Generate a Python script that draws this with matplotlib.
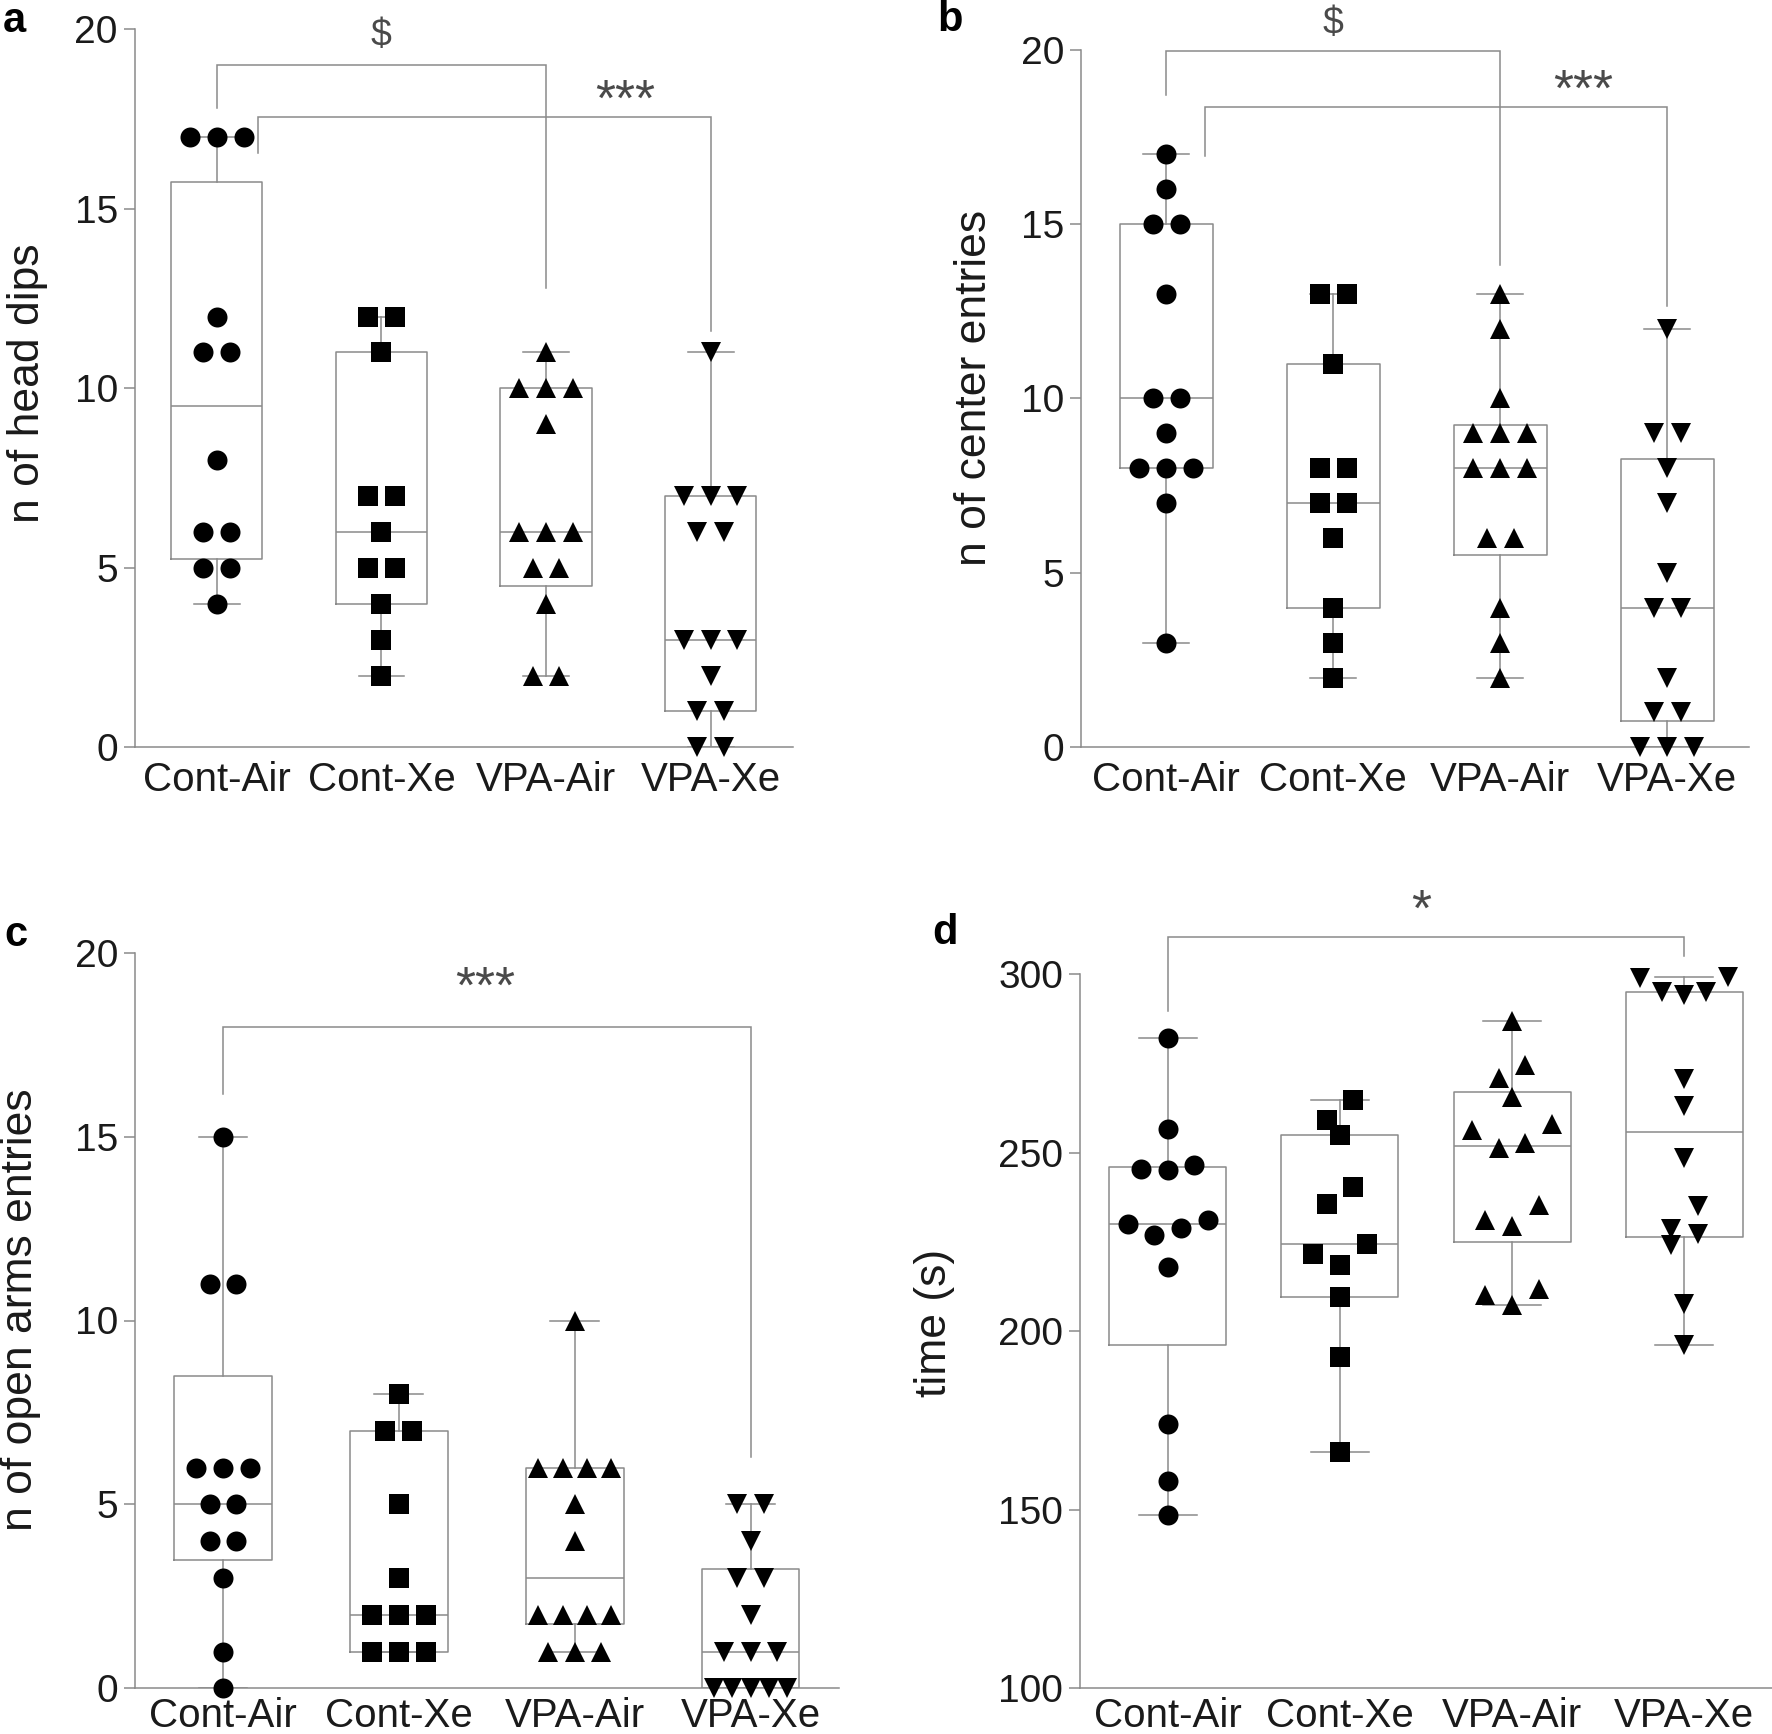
import numpy as np
import matplotlib.pyplot as plt

plt.rcParams['font.family'] = ['Liberation Sans', 'DejaVu Sans']

groups = ['Cont-Air', 'Cont-Xe', 'VPA-Air', 'VPA-Xe']
markers = ['o', 's', '^', 'v']

# a: n of head dips
head_dips = [
    [17, 17, 17, 12, 11, 11, 8, 6, 6, 5, 5, 4],
    [12, 12, 11, 7, 7, 6, 5, 5, 4, 3, 2],
    [11, 10, 10, 10, 9, 6, 6, 6, 5, 5, 4, 2, 2],
    [11, 7, 7, 7, 6, 6, 3, 3, 3, 2, 1, 1, 0, 0],
]
# b: n of center entries
center_entries = [
    [17, 16, 15, 15, 13, 10, 10, 9, 8, 8, 8, 7, 3],
    [13, 13, 11, 8, 8, 7, 7, 6, 4, 3, 2],
    [13, 12, 10, 9, 9, 9, 8, 8, 8, 6, 6, 4, 3, 2],
    [12, 9, 9, 8, 7, 5, 4, 4, 2, 1, 1, 0, 0, 0],
]
# c: n of open arms entries
open_arms_entries = [
    [15, 11, 11, 6, 6, 6, 5, 5, 4, 4, 3, 1, 0],
    [8, 7, 7, 5, 3, 2, 2, 2, 1, 1, 1],
    [10, 6, 6, 6, 6, 5, 4, 2, 2, 2, 2, 1, 1, 1],
    [5, 5, 4, 3, 3, 2, 1, 1, 1, 0, 0, 0, 0, 0],
]
# d: time (s)
time_s = [
    [282, 256.5, 246.5, 245.5, 245, 231, 230, 229, 227, 218, 174, 158, 148.5],
    [264.8, 259.2, 255, 240.4, 235.6, 224.4, 221.6, 218.4, 209.7, 192.8, 166.3],
    [286.9, 274.4, 271, 265.6, 258.1, 256.4, 252.6, 251.3, 235.3, 231, 229.5, 211.7, 210.1, 207.4],
    [299.1, 298.8, 295, 295, 294.2, 270.6, 263, 248.5, 235.1, 228.7, 227.2, 224.1, 207.7, 196],
]

W, H = 1772, 1734
fig = plt.figure(figsize=(W / 100, H / 100), dpi=100)

LINE = '#8a8a8a'
TXT = '#1a1a1a'
SIG = '#4a4a4a'


def box_stats(v):
    v = np.asarray(v, dtype=float)
    q1, med, q3 = np.percentile(v, [25, 50, 75], method='weibull')
    return dict(med=med, q1=q1, q3=q3, whislo=v.min(), whishi=v.max(), fliers=[])


def swarm(vals, row_gap, step_px, max_px):
    # rows of close values, spread symmetrically, outer slots first
    vals = np.asarray(vals, dtype=float)
    order = np.argsort(-vals, kind='stable')
    rows, cur = [], [order[0]]
    for i in order[1:]:
        if vals[cur[0]] - vals[i] < row_gap:
            cur.append(i)
        else:
            rows.append(cur)
            cur = [i]
    rows.append(cur)
    offs = np.zeros(len(vals))
    for row in rows:
        k = len(row)
        step = step_px if k == 1 else min(step_px, max_px / (k - 1))
        slots = sorted([i - (k - 1) / 2 for i in range(k)], key=lambda s: (-abs(s), -s))
        for i, s in zip(row, slots):
            offs[i] = s * step
    return offs


def sig_text(ax, x, y, s, size, frac):
    ax.annotate(s, xy=(x, y), xytext=(0, -frac * size), textcoords='offset points',
                ha='center', va='baseline', fontsize=size, color=SIG, annotation_clip=False)


def bracket(ax, x1, x2, top, low1, low2):
    ax.plot([x1, x1, x2, x2], [low1, top, top, low2], color=LINE, lw=1.1,
            clip_on=False, zorder=1, solid_joinstyle='miter')


panels = [
    dict(data=head_dips, rect=(134.5, 29.3, 793, 747.3), xlim=(0.5, 4.5), ylim=(0, 20),
         yticks=[0, 5, 10, 15, 20], ylabel='n of head dips', ylab_xy=(28, 383),
         width=0.555, gap=0.5, letter='a', letter_xy=(3, 32), xpad=10,
         brackets=[(1, 3, 19.0, 17.8, 12.8), (1.25, 4, 17.57, 16.55, 11.6)],
         sigs=[('$', 2, 19.87), ('***', 3.48, 18.26)]),
    dict(data=center_entries, rect=(1081, 49.5, 1749, 747.3), xlim=(0.49, 4.49), ylim=(0, 20),
         yticks=[0, 5, 10, 15, 20], ylabel='n of center entries', ylab_xy=(974, 388),
         width=0.555, gap=0.5, letter='b', letter_xy=(937, 31), xpad=10,
         brackets=[(1, 3, 19.96, 18.71, 13.82), (1.234, 4, 18.35, 16.96, 12.65)],
         sigs=[('$', 2, 20.8), ('***', 3.5, 19.08)]),
    dict(data=open_arms_entries, rect=(135, 952.7, 838.6, 1688.3), xlim=(0.5, 4.5), ylim=(0, 20),
         yticks=[0, 5, 10, 15, 20], ylabel='n of open arms entries', ylab_xy=(21, 1310),
         width=0.555, gap=0.5, letter='c', letter_xy=(4, 946), xpad=6,
         brackets=[(1, 4, 17.97, 16.16, 6.3)],
         sigs=[('***', 2.49, 19.28)]),
    dict(data=time_s, rect=(1080, 974, 1772, 1688.3), xlim=(0.49, 4.51), ylim=(100, 300),
         yticks=[100, 150, 200, 250, 300], ylabel='time (s)', ylab_xy=(934, 1323),
         width=0.68, gap=7, letter='d', letter_xy=(932, 944), xpad=6,
         brackets=[(1, 4, 310.4, 289.6, 304.9)],
         sigs=[('*', 2.47, 320.1)]),
]

for p in panels:
    l, t, r, b = p['rect']
    ax = fig.add_axes([l / W, 1 - b / H, (r - l) / W, (b - t) / H])
    ax.set_xlim(*p['xlim'])
    ax.set_ylim(*p['ylim'])
    px_per_unit = (r - l) / (p['xlim'][1] - p['xlim'][0])

    stats = [box_stats(v) for v in p['data']]
    lp = dict(color=LINE, lw=1.1)
    ax.bxp(stats, positions=[1, 2, 3, 4], widths=p['width'], capwidths=p['width'] / 2,
           showfliers=False, boxprops=lp, whiskerprops=lp, capprops=lp, medianprops=lp,
           manage_ticks=False, zorder=2)

    for i, v in enumerate(p['data']):
        offs = swarm(v, p['gap'], 26.7, 0.75 * p['width'] * px_per_unit) / px_per_unit
        ax.plot(i + 1 + offs, v, ls='none', marker=markers[i], ms=14.4, color='black',
                mew=0, clip_on=False, zorder=3)

    for br in p['brackets']:
        bracket(ax, *br)
    for s, x, y in p['sigs']:
        if s == '$':
            sig_text(ax, x, y, s, 27, 0.32)
        else:
            sig_text(ax, x, y, s, 37, 0.46)

    ax.set_xticks([1, 2, 3, 4])
    ax.set_xticklabels(groups, fontsize=29, color=TXT)
    ax.set_yticks(p['yticks'])
    ax.set_yticklabels([str(y) for y in p['yticks']], fontsize=28, color=TXT)
    ax.tick_params(axis='x', length=0, pad=p['xpad'])
    ax.tick_params(axis='y', length=8, width=1.1, color=LINE, pad=4)
    for side in ['top', 'right']:
        ax.spines[side].set_visible(False)
    for side in ['left', 'bottom']:
        ax.spines[side].set_color(LINE)
        ax.spines[side].set_linewidth(1.1)
    ax.patch.set_visible(False)

    fig.text(p['ylab_xy'][0] / W, 1 - p['ylab_xy'][1] / H, p['ylabel'], rotation=90,
             ha='center', va='center', fontsize=32, color=TXT)
    fig.text(p['letter_xy'][0] / W, 1 - p['letter_xy'][1] / H, p['letter'],
             ha='left', va='baseline', fontsize=30, fontweight='bold', color='black')

fig.savefig('out.png', dpi=100, facecolor='white')
